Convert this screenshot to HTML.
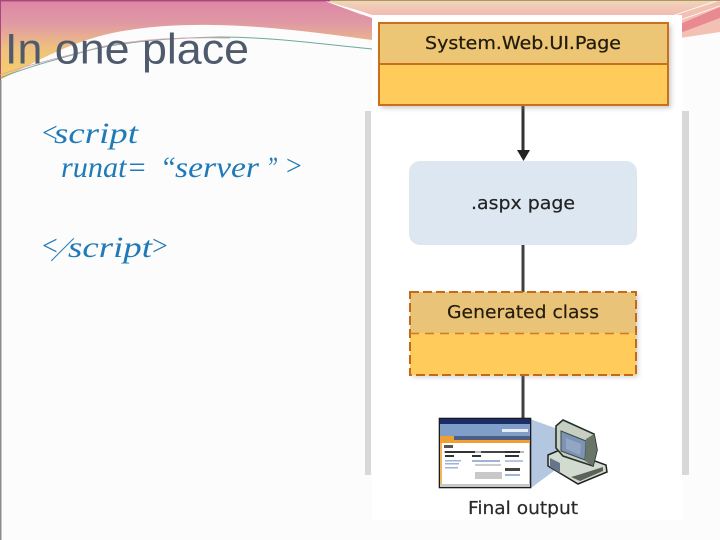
<!DOCTYPE html>
<html>
<head>
<meta charset="utf-8">
<style>
html,body{margin:0;padding:0;width:720px;height:540px;overflow:hidden;background:#fcfcfc}
svg{display:block}
</style>
</head>
<body>
<svg width="720" height="540" viewBox="0 0 720 540" xmlns="http://www.w3.org/2000/svg">
<defs>
<linearGradient id="band" gradientUnits="userSpaceOnUse" x1="0" y1="0" x2="0" y2="80">
<stop offset="0" stop-color="#dd85a6"/>
<stop offset="0.3" stop-color="#e09aa4"/>
<stop offset="0.62" stop-color="#efc27c"/>
<stop offset="1" stop-color="#f6d066"/>
</linearGradient>
<linearGradient id="band2" x1="0" y1="0" x2="0" y2="1">
<stop offset="0" stop-color="#efd6ba"/>
<stop offset="1" stop-color="#f3b9b2"/>
</linearGradient>
<filter id="soft" x="-5%" y="-5%" width="110%" height="110%"><feGaussianBlur stdDeviation="0.3"/></filter>
<filter id="sh" x="-5%" y="-10%" width="112%" height="125%"><feGaussianBlur stdDeviation="2.5"/></filter>
</defs>

<rect width="720" height="540" fill="#fcfcfc"/>
<!-- top decorative band -->
<path d="M0 0H330L372 14V40C300 30 260 26 215 25C170 24 130 28 100 36C60 47 30 65 0 80Z" fill="url(#band)"/>
<path d="M322 0H720V14L680 16L392 15H362Z" fill="url(#band2)"/>
<path d="M322 0L360 11L372 15V18L358 13Z" fill="#fff"/>
<path d="M680 16L720 1V32L680 38Z" fill="#f3c0b4"/>
<path d="M680 24L720 7V18L680 33Z" fill="#e98a92"/>
<path d="M672 16L716 1M680 20L720 6" stroke="#fff" stroke-width="0.7" fill="none"/>
<rect x="0" y="0" width="330" height="1.4" fill="#a6487a"/>
<rect x="330" y="0" width="390" height="1" fill="#a89a60"/>
<rect x="0" y="0" width="1" height="80" fill="#a6487a"/>
<rect x="0" y="80" width="1.5" height="460" fill="#8c8c8c"/>
<!-- thin swoosh lines -->
<path d="M0 78C30 66 55 60 90 50C130 41 170 38 220 37C270 37 320 44 372 49" fill="none" stroke="#6fa89a" stroke-width="1"/>
<path d="M0 75C30 64 60 58 100 47C140 39 180 37 230 38" fill="none" stroke="#d9a6b8" stroke-width="0.9"/>

<!-- title -->
<text x="5" y="63.5" font-family="'Liberation Sans',sans-serif" font-size="43" fill="#4f5a6c" textLength="244" lengthAdjust="spacingAndGlyphs">In one place</text>

<!-- code text -->
<g font-family="'Liberation Serif',serif" font-style="italic" font-size="30" fill="#1f7ab8">
<text x="54" y="143" textLength="84" lengthAdjust="spacingAndGlyphs">script</text>
<text x="61" y="177" textLength="86" lengthAdjust="spacingAndGlyphs">runat=</text>
<text x="160" y="177" textLength="16" lengthAdjust="spacingAndGlyphs">“</text>
<text x="175" y="177" textLength="84" lengthAdjust="spacingAndGlyphs">server</text>
<text x="266" y="177" textLength="12" lengthAdjust="spacingAndGlyphs">”</text>
<text x="68" y="257" textLength="84" lengthAdjust="spacingAndGlyphs">script</text>
</g>
<text x="50" y="259" font-family="'Noto Serif CJK SC',serif" font-size="25" fill="#1f7ab8">／</text>
<g font-family="'Liberation Serif',serif" font-size="28" fill="#1f7ab8">
<text x="42" y="142">&lt;</text>
<text x="286" y="175">&gt;</text>
<text x="42" y="255">&lt;</text>
<text x="152" y="255">&gt;</text>
</g>

<!-- side bars and white panel -->
<rect x="365" y="111" width="6" height="364" fill="#d8d8d8"/>
<rect x="682" y="111" width="7" height="364" fill="#d8d8d8"/>
<rect x="372" y="15" width="310" height="505" fill="#ffffff"/>

<g filter="url(#soft)">
<!-- connectors -->
<rect x="521.5" y="105" width="3" height="46" fill="#333"/>
<path d="M517 150H530L523.5 161Z" fill="#222"/>
<rect x="521.5" y="245" width="3" height="47" fill="#404040"/>
<rect x="521.5" y="375" width="3" height="44" fill="#404040"/>

<!-- System.Web.UI.Page -->
<rect x="381" y="25" width="290" height="83" fill="#888" opacity="0.45" filter="url(#sh)"/>
<rect x="379" y="23" width="289" height="82" fill="#ffcb5a"/>
<rect x="379" y="23" width="289" height="41" fill="#ecc674"/>
<rect x="379" y="23" width="289" height="82" fill="none" stroke="#c8701a" stroke-width="2"/>
<line x1="379" y1="64" x2="668" y2="64" stroke="#c8701a" stroke-width="2"/>
<text x="523" y="49" text-anchor="middle" font-family="'DejaVu Sans',sans-serif" font-size="18" fill="#221c10" stroke="#221c10" stroke-width="0.25" textLength="196" lengthAdjust="spacingAndGlyphs">System.Web.UI.Page</text>

<!-- aspx page -->
<rect x="409" y="161" width="228" height="84" rx="11" fill="#dce7f1"/>
<text x="523" y="209" text-anchor="middle" font-family="'DejaVu Sans',sans-serif" font-size="18" fill="#222" stroke="#222" stroke-width="0.2" textLength="104" lengthAdjust="spacingAndGlyphs">.aspx page</text>

<!-- Generated class -->
<rect x="412" y="294" width="226" height="83" fill="#888" opacity="0.4" filter="url(#sh)"/>
<rect x="410" y="292" width="226" height="83" fill="#ffcb5a"/>
<rect x="410" y="292" width="226" height="41" fill="#e9c377"/>
<rect x="410" y="292" width="226" height="83" fill="none" stroke="#c46a18" stroke-width="2" stroke-dasharray="9 4"/>
<line x1="410" y1="333.5" x2="636" y2="333.5" stroke="#d07a20" stroke-width="1.6" stroke-dasharray="9 6"/>
<text x="523" y="318" text-anchor="middle" font-family="'DejaVu Sans',sans-serif" font-size="18" fill="#261f10" stroke="#261f10" stroke-width="0.2" textLength="152" lengthAdjust="spacingAndGlyphs">Generated class</text>

<!-- projection beam -->
<path d="M530 419L566 432V462L531 488Z" fill="#b4c7e0"/>

<!-- browser window -->
<rect x="439.5" y="418.5" width="91" height="69" fill="#fff" stroke="#1c1c1c" stroke-width="1.6"/>
<rect x="440" y="419" width="90" height="5" fill="#1f2f6a"/>
<rect x="440" y="424" width="90" height="12" fill="#7f9fc9"/>
<rect x="502" y="429" width="26" height="3" fill="#e8edf5"/>
<rect x="440" y="436" width="90" height="4" fill="#4d5f86"/>
<rect x="440" y="440" width="90" height="3" fill="#f0a030"/>
<rect x="440" y="436" width="14" height="7" fill="#f0a030"/>
<rect x="440" y="443" width="2" height="42" fill="#f3b45c"/>
<rect x="444" y="445" width="9" height="3" fill="#555"/>
<rect x="444" y="451" width="80" height="2" fill="#bbb"/>
<rect x="445" y="451" width="30" height="2" fill="#333"/>
<rect x="481" y="451" width="28" height="2" fill="#444"/>
<rect x="505" y="451" width="15" height="2" fill="#333"/>
<rect x="445" y="455" width="9" height="2" fill="#333"/>
<rect x="472" y="455" width="9" height="2" fill="#333"/>
<rect x="505" y="455" width="14" height="2" fill="#333"/>
<rect x="445" y="460" width="16" height="1.5" fill="#9db4d8"/>
<rect x="445" y="463" width="14" height="1.5" fill="#9db4d8"/>
<rect x="445" y="467" width="13" height="1.5" fill="#9db4d8"/>
<rect x="472" y="460" width="28" height="2" fill="#9db4d8"/>
<rect x="475" y="464" width="26" height="2" fill="#ccc"/>
<rect x="475" y="472" width="27" height="7" fill="#c8c8c8"/>
<rect x="505" y="460" width="18" height="2" fill="#b6c6e0"/>
<rect x="505" y="468" width="15" height="3" fill="#444"/>
<rect x="505" y="474" width="15" height="2" fill="#9db4d8"/>
<rect x="440" y="484" width="90" height="3" fill="#c8c8c8"/>

<!-- computer: base -->
<path d="M548 455L562 449L606 465L607 472L578 484L548 466Z" fill="#d3dacf" stroke="#222" stroke-width="1.5"/>
<path d="M550 458L560 463V473L550 467Z" fill="#66758a"/>
<path d="M571 477L580 481L603 471L603 467L578 475Z" fill="#5a6459"/>
<!-- computer: monitor -->
<path d="M556 426L563 420L594 434L597 450L593 466L563 456L556 448Z" fill="#c6cfc2" stroke="#26302a" stroke-width="1.6"/>
<path d="M561 431L586 441L585 460L561 451Z" fill="#7d93b5" stroke="#3e4a46" stroke-width="1"/>
<path d="M566 438L581 444L580 455L566 449Z" fill="#93a7c4"/>
<path d="M586 439L594 434L597 450L593 466L585 461Z" fill="#6a746a"/>

<text x="523" y="514" text-anchor="middle" font-family="'DejaVu Sans',sans-serif" font-size="18" fill="#2c2c2c" stroke="#2c2c2c" stroke-width="0.2" textLength="110" lengthAdjust="spacingAndGlyphs">Final output</text>
</g>
</svg>
</body>
</html>
